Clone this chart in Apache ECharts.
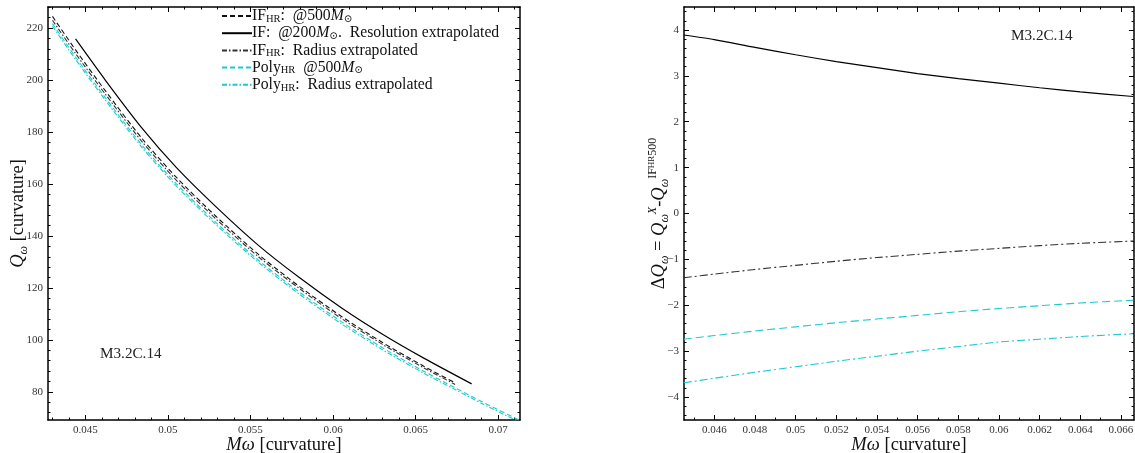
<!DOCTYPE html>
<html><head><meta charset="utf-8">
<script src="https://cdn.jsdelivr.net/npm/echarts@6/dist/echarts.min.js"></script>
<style>html,body{margin:0;padding:0;background:#fff}#c{width:1135px;height:453px}</style>
</head><body><div id="c"></div>
<script>
// ---------- Left panel data: Q_omega vs M omega ----------
const xIF200 = [0.0444,0.0462,0.0484,0.0505,0.0529,0.0555,0.058,0.0605,0.063,0.0655,0.0684];
const qIF200 = [215.8,200.0,181.7,166.4,151.3,136.3,123.8,112.4,102.2,93.0,83.1];

const xIFHR = [0.043,0.0444,0.0462,0.0484,0.0505,0.0529,0.0555,0.058,0.0605,0.063,0.0655,0.0674];
const qIFHR500 = [224.5,211.6,195.9,177.7,162.6,147.6,132.8,120.4,109.1,99.0,89.9,83.5];
const qIFHRrad = [223.0,210.2,194.6,176.5,161.5,146.6,131.9,119.6,108.3,98.3,89.25,82.9];

const xPoly = [0.043,0.0444,0.0462,0.0484,0.0505,0.0529,0.0555,0.058,0.0605,0.063,0.0655,0.0674,0.069,0.0715];
const qPoly500 = [221.7,208.85,193.25,175.15,160.15,145.25,130.55,118.25,107.05,97.0,87.95,81.6,76.3,68.5];
const qPolyRad = [220.75,207.9,192.3,174.25,159.25,144.4,129.75,117.45,106.25,96.25,87.2,80.9,75.6,67.8];

// ---------- Right panel data: Delta Q_omega ----------
const xDelta = [0.0445,0.046,0.048,0.05,0.052,0.054,0.056,0.058,0.06,0.062,0.064,0.0666];
const dIF200 = [3.89,3.79,3.62,3.46,3.31,3.18,3.05,2.94,2.84,2.74,2.65,2.55];
const dIFHRrad = [-1.40,-1.32,-1.22,-1.13,-1.04,-0.96,-0.89,-0.82,-0.76,-0.70,-0.65,-0.60];
const dPoly500 = [-2.74,-2.66,-2.56,-2.47,-2.38,-2.30,-2.22,-2.14,-2.07,-2.01,-1.95,-1.89];
const dPolyRad = [-3.69,-3.59,-3.46,-3.34,-3.22,-3.11,-3.00,-2.90,-2.80,-2.74,-2.68,-2.62];

// ---------- Tick labels ----------
const xTicksL = [0.045,0.05,0.055,0.06,0.065,0.07];
const yTicksL = [80,100,120,140,160,180,200,220];
const xTicksR = [0.046,0.048,0.05,0.052,0.054,0.056,0.058,0.06,0.062,0.064,0.066];
const yTicksR = [-4,-3,-2,-1,0,1,2,3,4];

const FONT = "'Liberation Serif','DejaVu Serif',serif";
const CYAN = '#1ec9cf';

function zip(xs, ys){ return xs.map((x,i)=>[x, ys[i]]); }

function makeAxes(dim, grid, min, max, majors, minorStep, fmt, nameCfg, labelSize){
  const minors = [];
  for (let k = Math.ceil(min/minorStep - 1e-9); k*minorStep <= max + 1e-12; k++){
    const v = +(k*minorStep).toFixed(6);
    if (!majors.some(m => Math.abs(m - v) < minorStep*0.01)) minors.push(v);
  }
  const pA = dim === 'x' ? 'bottom' : 'left';
  const pB = dim === 'x' ? 'top' : 'right';
  const base = {gridIndex: grid, type: 'value', min: min, max: max, splitLine: {show: false},
    axisLine: {show: true, onZero: false, lineStyle: {color: '#000', width: 1.5}}};
  const main = Object.assign({}, base, {
    position: pA, nameMoveOverlap: false,
    axisTick: {show: true, inside: true, length: 5, customValues: majors, lineStyle: {color: '#000', width: 1}},
    axisLabel: {show: true, customValues: majors, formatter: fmt, fontFamily: FONT, fontSize: labelSize, color: '#333', margin: 5}
  }, nameCfg);
  const opp = Object.assign({}, base, {
    position: pB,
    axisTick: {show: true, inside: true, length: 5, customValues: majors, lineStyle: {color: '#000', width: 1}},
    axisLabel: {show: false}
  });
  const minA = Object.assign({}, base, {
    position: pA, axisLine: {show: false, onZero: false},
    axisTick: {show: true, inside: true, length: 2.5, customValues: minors, lineStyle: {color: '#000', width: 1}},
    axisLabel: {show: false}
  });
  const minB = Object.assign({}, minA, {position: pB});
  return [main, opp, minA, minB];
}

const NS = 18.5;
const nameStyle = {fontFamily: FONT, fontSize: NS, color: '#111',
  rich: {
    i: {fontFamily: FONT, fontStyle: 'italic', fontSize: NS, color: '#111', lineHeight: 24, verticalAlign: 'middle'},
    n: {fontFamily: FONT, fontSize: NS, color: '#111', lineHeight: 24, verticalAlign: 'middle'},
    sub: {fontFamily: FONT, fontStyle: 'italic', fontSize: 12, color: '#111', lineHeight: 13, verticalAlign: 'bottom'},
    sup: {fontFamily: FONT, fontStyle: 'italic', fontSize: 12, color: '#111', lineHeight: 13, verticalAlign: 'top'},
    supn: {fontFamily: FONT, fontSize: 12, color: '#111', lineHeight: 13, verticalAlign: 'top'},
    tiny: {fontFamily: FONT, fontSize: 9, color: '#111', lineHeight: 15, verticalAlign: 'top'}
  }};

const fmtL = v => String(v);
const fmtR = v => v < 0 ? '\u2212' + Math.abs(v) : String(v);

const xAxes = [].concat(
  makeAxes('x', 0, 0.04273, 0.07133, xTicksL, 0.001, fmtL,
    {name: '{i|M\u03C9}{n| [curvature]}', nameLocation: 'middle', nameGap: 13, nameTextStyle: nameStyle}, 11),
  makeAxes('x', 1, 0.04451, 0.06664, xTicksR, 0.001, fmtL,
    {name: '{i|M\u03C9}{n| [curvature]}', nameLocation: 'middle', nameGap: 13, nameTextStyle: nameStyle}, 11)
);
const yAxes = [].concat(
  makeAxes('y', 0, 69.2, 228.1, yTicksL, 4, fmtL,
    {name: '{i|Q}{sub|\u03C9}{n| [curvature]}', nameLocation: 'middle', nameGap: 18, nameRotate: 90, nameTextStyle: nameStyle}, 11),
  makeAxes('y', 1, -4.5, 4.5, yTicksR, 0.2, fmtR,
    {name: '{n|\u0394}{i|Q}{sub|\u03C9}{n| = }{i|Q}{sub|\u03C9}{sup|X}{n|-}{i|Q}{sub|\u03C9}{supn|IF}{tiny|HR}{supn|500}', nameLocation: 'middle', nameGap: 13, nameRotate: 90, nameTextStyle: nameStyle}, 11)
);

function line(name, xs, ys, xi, yi, color, type, width){
  return {name: name, type: 'line', xAxisIndex: xi, yAxisIndex: yi, data: zip(xs, ys),
    symbol: 'none', showSymbol: false, smooth: 0.25, clip: true, silent: true,
    lineStyle: {color: color, width: width || 1.1, type: type}, itemStyle: {color: color}};
}

const dashL = [5, 3], dashDotL = [5, 2, 1.5, 2];
const dashR = [8, 4], dashDotR = [8, 3, 2, 3];

const names = {
  'IFHR500': '{n|IF}{sub|HR}{n|:  @500}{i|M}{sub|\u2299}',
  'IF200': '{n|IF:  @200}{i|M}{sub|\u2299}{n|.  Resolution extrapolated}',
  'IFHRrad': '{n|IF}{sub|HR}{n|:  Radius extrapolated}',
  'Poly500': '{n|Poly}{sub|HR}{n|  @500}{i|M}{sub|\u2299}',
  'PolyRad': '{n|Poly}{sub|HR}{n|:  Radius extrapolated}'
};

const LS = 15.7;
const legRich = {
  n: {fontFamily: FONT, fontSize: LS, color: '#111', lineHeight: 17, verticalAlign: 'middle'},
  i: {fontFamily: FONT, fontSize: LS, fontStyle: 'italic', color: '#111', lineHeight: 17, verticalAlign: 'middle'},
  sub: {fontFamily: FONT, fontSize: 10.5, color: '#111', lineHeight: 11, verticalAlign: 'bottom'}
};

const option = {
  animation: false,
  backgroundColor: '#fff',
  grid: [
    {left: 48, top: 7, width: 472, height: 413, containLabel: false, outerBoundsMode: 'none'},
    {left: 684, top: 7, width: 450, height: 413, containLabel: false, outerBoundsMode: 'none'}
  ],
  xAxis: xAxes,
  yAxis: yAxes,
  legend: {
    data: ['IFHR500', 'IF200', 'IFHRrad', 'Poly500', 'PolyRad'],
    orient: 'vertical', left: 221, top: 8, itemWidth: 30, itemHeight: 10, itemGap: 0.7,
    padding: 0, selectedMode: false,
    itemStyle: {opacity: 0, borderWidth: 0},
    formatter: n => names[n],
    textStyle: {fontFamily: FONT, fontSize: LS, color: '#111', padding: [0, 0, 0, -5], rich: legRich}
  },
  graphic: [
    {type: 'text', left: 100, top: 347, style: {text: 'M3.2C.14', font: '15.2px ' + FONT, fill: '#222'}},
    {type: 'text', left: 1011, top: 29, style: {text: 'M3.2C.14', font: '15.2px ' + FONT, fill: '#222'}}
  ],
  series: [
    line('IFHR500', xIFHR, qIFHR500, 0, 0, '#111', dashL),
    line('IF200', xIF200, qIF200, 0, 0, '#000', 'solid', 1.2),
    line('IFHRrad', xIFHR, qIFHRrad, 0, 0, '#333', dashDotL),
    line('Poly500', xPoly, qPoly500, 0, 0, CYAN, dashL),
    line('PolyRad', xPoly, qPolyRad, 0, 0, CYAN, dashDotL),

    line('dIF200', xDelta, dIF200, 4, 4, '#000', 'solid', 1.2),
    line('dIFHRrad', xDelta, dIFHRrad, 4, 4, '#333', dashDotR),
    line('dPoly500', xDelta, dPoly500, 4, 4, CYAN, dashR),
    line('dPolyRad', xDelta, dPolyRad, 4, 4, CYAN, dashDotR)
  ]
};

const chart = echarts.init(document.getElementById('c'), null, {renderer: 'canvas'});
chart.setOption(option);
</script>
</body></html>
